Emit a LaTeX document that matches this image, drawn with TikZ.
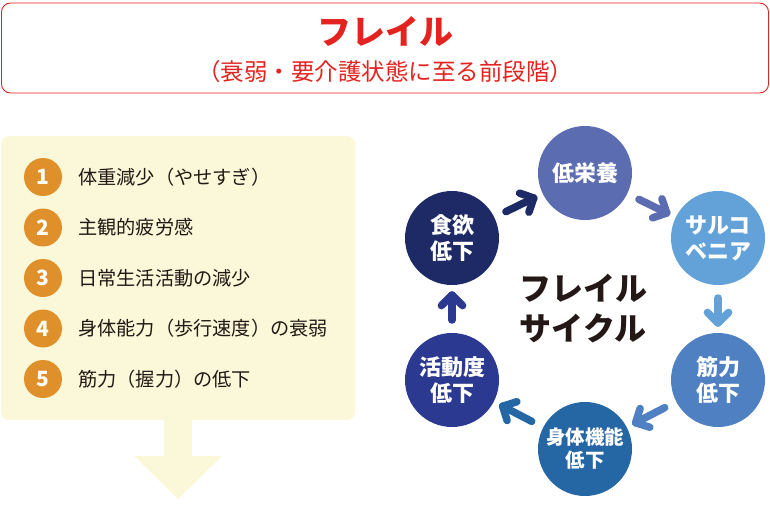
\documentclass[tikz,border=0pt]{standalone}
\usepackage{fontspec}
\setmainfont{Noto Sans CJK JP}
\usetikzlibrary{calc}
\definecolor{frred}{HTML}{E3231F}
\definecolor{pale}{HTML}{FBF8D9}
\definecolor{orng}{HTML}{E0902A}
\definecolor{ink}{HTML}{231815}
\definecolor{cA}{HTML}{1E2A66}
\definecolor{cB}{HTML}{5C6CB0}
\definecolor{cC}{HTML}{62A2D8}
\definecolor{cD}{HTML}{4F80C2}
\definecolor{cE}{HTML}{2566A5}
\definecolor{cF}{HTML}{2B3990}
\newcommand{\cycarrow}[3]{%
  \path ($(#1)!60pt!(#2)$) coordinate (p#1) ($(#2)!57pt!(#1)$) coordinate (q#1);
  \draw[cyc,#3] (p#1) -- (q#1);
  \draw[cyc,#3] ($(q#1)!15pt!45:(p#1)$) -- (q#1) -- ($(q#1)!15pt!-45:(p#1)$);
}
\begin{document}
\begin{tikzpicture}[x=1pt,y=-1pt,
  numdot/.style={circle,fill=orng,minimum size=38pt,inner sep=0pt,text=white,font=\fontsize{21}{21}\selectfont\bfseries},
  item/.style={anchor=west,text=ink,inner sep=0pt,font=\fontsize{19.2}{20}\selectfont},
  cnode/.style={circle,minimum size=94pt,inner sep=0pt,text=white,align=center,font=\fontsize{22}{26}\selectfont\bfseries},
  cyc/.style={line width=7.5pt,line cap=round,line join=round}]
\useasboundingbox (0,0) rectangle (770,519);
% top box
\draw[frred,line width=0.9pt,rounded corners=9pt] (1.5,3) rectangle (768.5,93);
\node[text=frred,font=\fontsize{34}{34}\selectfont\bfseries] (title) at (385,31) {フレイル};
\node[text=frred,font=\fontsize{23.5}{24}\selectfont] (sub) at (385,72) {（衰弱・要介護状態に至る前段階）};
% left box
\fill[pale,rounded corners=8pt] (1,136) rectangle (355,420);
\fill[pale] (164,419) -- (192,419) -- (192,456) -- (222,456) -- (178,499) -- (134,456) -- (164,456) -- cycle;
\node[numdot] (n1) at (43,177) {1};
\node[numdot] (n2) at (43,227.5) {2};
\node[numdot] (n3) at (43,278) {3};
\node[numdot] (n4) at (43,328.5) {4};
\node[numdot] (n5) at (43,379) {5};
\node[item] (t1) at (78,177) {体重減少（やせすぎ）};
\node[item] (t2) at (78,227.5) {主観的疲労感};
\node[item] (t3) at (78,278) {日常生活活動の減少};
\node[item] (t4) at (78,328.5) {身体能力（歩行速度）の衰弱};
\node[item] (t5) at (78,379) {筋力（握力）の低下};
% cycle
\node[cnode,fill=cA] (a) at (452,238) {食欲\\低下};
\node[cnode,fill=cB] (b) at (585,173) {低栄養};
\node[cnode,fill=cC] (c) at (718,238) {サルコ\\ベニア};
\node[cnode,fill=cD] (d) at (718,380) {筋力\\低下};
\node[cnode,fill=cE,font=\fontsize{19.5}{23}\selectfont\bfseries] (e) at (585,449) {身体機能\\低下};
\node[cnode,fill=cF] (f) at (452,380) {活動度\\低下};
\node[text=ink,align=center,font=\fontsize{32}{40}\selectfont\bfseries] (ctr) at (583,309) {フレイル\\サイクル};
\cycarrow{a}{b}{cA}
\cycarrow{b}{c}{cB}
\cycarrow{c}{d}{cC}
\cycarrow{d}{e}{cD}
\cycarrow{e}{f}{cE}
\cycarrow{f}{a}{cF}
\end{tikzpicture}
\end{document}
